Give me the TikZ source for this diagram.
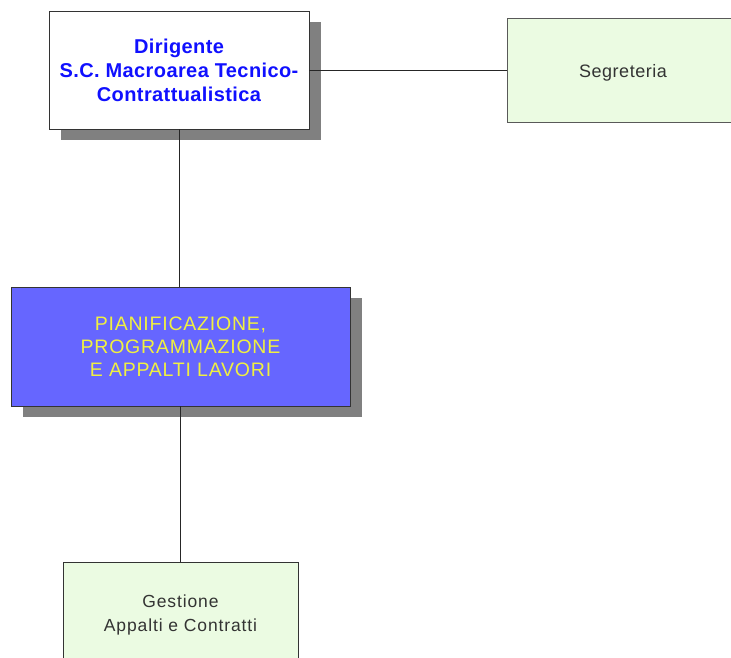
\documentclass[tikz,border=0pt]{standalone}
\usepackage{fontspec}
\setmainfont{Liberation Sans}
\usetikzlibrary{shadows}
\definecolor{leafgreen}{HTML}{EBFBE2}
\definecolor{unitblue}{HTML}{6666FF}
\definecolor{titleblue}{HTML}{1010FF}
\definecolor{labelyellow}{HTML}{F0F040}
\definecolor{shadowgray}{HTML}{808080}
\definecolor{textgray}{HTML}{333333}
\tikzset{
  unitbox/.style={draw=black!80, line width=0.8pt, rectangle, align=center, inner sep=0pt},
  shadowed/.style={drop shadow={shadow xshift=12pt, shadow yshift=-11pt, fill=shadowgray, opacity=1}},
  link/.style={draw=black!85, line width=0.8pt}
}
\begin{document}
\begin{tikzpicture}[x=1pt, y=-1pt]
  \useasboundingbox (0,0) rectangle (731,658);
  % head of the structure
  \node[unitbox, shadowed, fill=white, minimum width=260pt, minimum height=118pt,
        font={\fontsize{20}{24}\selectfont\bfseries\addfontfeatures{LetterSpace=2}}, text=titleblue]
    (dir) at (179,70) {Dirigente\\S.C. Macroarea Tecnico-\\Contrattualistica};
  % staff office
  \node[unitbox, draw=black!65, fill=leafgreen, minimum width=232pt, minimum height=104pt,
        text height=15.5pt, text depth=0pt,
        font={\fontsize{18}{22}\selectfont\addfontfeatures{LetterSpace=3}}, text=textgray]
    (seg) at (623,70) {Segreteria};
  % planning unit
  \node[unitbox, shadowed, fill=unitblue, minimum width=339pt, minimum height=119pt,
        font={\fontsize{19.5}{23}\selectfont\addfontfeatures{LetterSpace=4}}, text=labelyellow]
    (pia) at (180.5,346.5) {PIANIFICAZIONE,\\PROGRAMMAZIONE\\E APPALTI LAVORI};
  % sub-unit
  \node[unitbox, fill=leafgreen, minimum width=235pt, minimum height=106pt,
        font={\fontsize{17.5}{24}\selectfont\addfontfeatures{LetterSpace=5}}, text=textgray]
    (ges) at (180.5,615) {Gestione\\Appalti e Contratti};
  % connectors
  \draw[link] (dir.east) -- (seg.west);
  \draw[link] (dir.south) -- (dir.south |- pia.north);
  \draw[link] (pia.south) -- (pia.south |- ges.north);
\end{tikzpicture}
\end{document}
